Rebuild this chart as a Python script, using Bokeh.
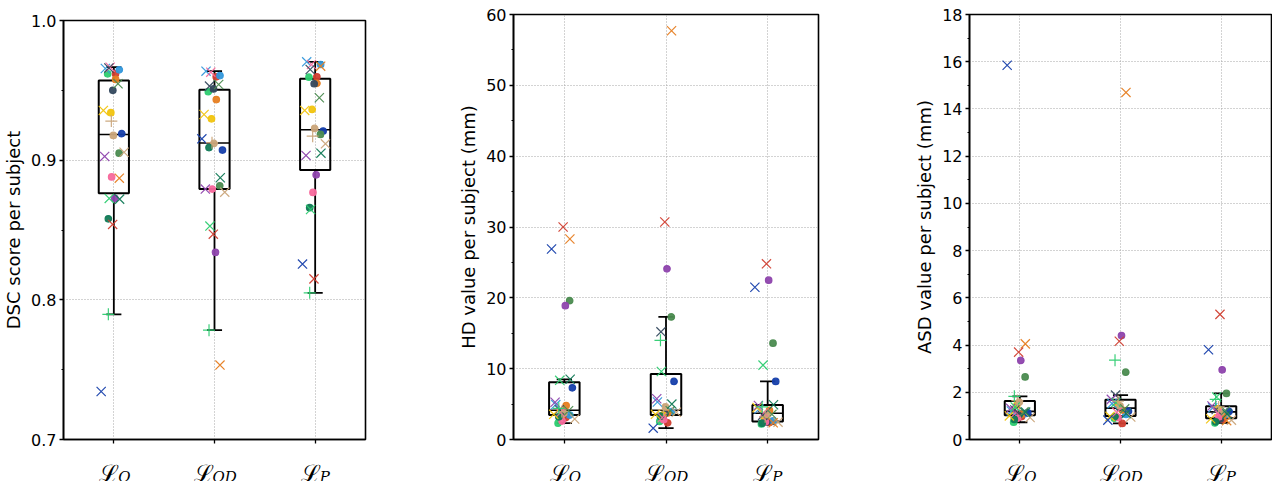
import numpy as np
from bokeh.plotting import figure
from bokeh.layouts import row, column
from bokeh.models import (SingleIntervalTicker, Range1d, ColumnDataSource,
                          NumeralTickFormatter, FixedTicker)
from bokeh.core.properties import value
from bokeh.embed import file_html
from bokeh.resources import INLINE

# ---------------- data ----------------
categories = ["O", "OD", "P"]          # subscripts of the loss names (L_O, L_OD, L_P)

# 26 subjects: colour / marker per subject
subject_colors = ["#d13f31", "#3498db", "#2ecc71", "#e67e22", "#34495e", "#f1c40f",
                  "#caa57a", "#163fab", "#4b8b50", "#f7699c", "#8e44ad", "#117a56",
                  "#3498db", "#f7699c", "#34495e", "#4b8b50", "#f1c40f", "#8e44ad",
                  "#caa57a", "#e67e22", "#2ecc71", "#117a56", "#d13f31", "#163fab",
                  "#caa57a", "#2ecc71"]
subject_markers = ["circle"] * 12 + ["x"] * 12 + ["cross"] * 2
# strip-plot jitter per subject (pixels at ~101 px per category)
subject_jitter_px = [1.7, 5.5, -6.2, 1.8, -1.0, -3.0, -0.5, 8.0, 5.3, -2.2, 1.0, -5.5,
                     -8.5, -3.7, -5.0, 4.2, -10.5, -9.2, 10.3, 5.5, -4.6, 5.8, -1.2, -12.7,
                     -2.5, -5.5]

dsc_O = [0.9618, 0.9647, 0.9618, 0.9578, 0.950, 0.934, 0.9177, 0.919, 0.905, 0.888, 0.8726, 0.858,
         0.9656, 0.9666, 0.966, 0.9547, 0.9356, 0.9027, 0.9057, 0.8871, 0.8726, 0.8721, 0.854, 0.7344,
         0.928, 0.7896]
dsc_OD = [0.9597, 0.9606, 0.949, 0.9434, 0.951, 0.9296, 0.912, 0.9072, 0.8817, 0.8793, 0.834, 0.909,
          0.9637, 0.963, 0.953, 0.9542, 0.9327, 0.8793, 0.8771, 0.7533, 0.8528, 0.8874, 0.847, 0.9153,
          0.9125, 0.7783]
dsc_P = [0.9597, 0.9685, 0.9594, 0.955, 0.9547, 0.9363, 0.9227, 0.9208, 0.9184, 0.8769, 0.8895, 0.866,
         0.9704, 0.9685, 0.9649, 0.9447, 0.9356, 0.9034, 0.9117, 0.9673, 0.8647, 0.905, 0.815, 0.8256,
         0.9172, 0.805]

hd_O = [3.1, 3.45, 2.3, 4.79, 3.6, 3.35, 3.7, 7.3, 19.6, 2.6, 18.9, 3.2,
        4.93, 3.8, 4.2, 4.06, 3.55, 5.26, 2.9, 28.3, 8.35, 8.5, 30.0, 26.9,
        3.95, 4.4]
hd_OD = [2.35, 3.95, 2.55, 3.75, 3.65, 3.45, 4.6, 8.2, 17.3, 2.8, 24.1, 3.3,
         5.3, 3.1, 15.2, 4.06, 3.55, 5.75, 3.85, 57.7, 9.6, 5.0, 30.7, 1.6,
         4.2, 14.0]
hd_P = [2.4, 2.65, 2.2, 4.1, 2.48, 3.0, 3.65, 8.2, 13.6, 2.5, 22.5, 2.3,
        4.3, 3.75, 3.4, 3.55, 4.5, 4.8, 2.45, 2.35, 10.5, 4.9, 24.8, 21.5,
        3.2, 4.6]

asd_O = [0.97, 1.1, 0.73, 1.06, 1.02, 1.45, 1.58, 1.13, 2.65, 0.9, 3.35, 0.85,
         1.21, 1.15, 1.25, 1.17, 1.0, 1.32, 0.93, 4.05, 1.38, 1.16, 3.7, 15.85,
         1.65, 1.83]
asd_OD = [0.68, 1.06, 0.9, 1.25, 1.36, 1.48, 1.42, 1.2, 2.85, 0.93, 4.4, 0.97,
          1.52, 1.15, 1.88, 1.3, 0.98, 1.7, 0.95, 14.7, 1.57, 1.1, 4.16, 0.82,
          1.62, 3.36]
asd_P = [0.85, 1.05, 0.7, 1.0, 0.87, 1.3, 1.15, 1.19, 1.95, 0.96, 2.95, 0.75,
         1.34, 1.12, 1.27, 1.22, 0.88, 1.42, 0.82, 0.8, 1.8, 1.08, 5.3, 3.8,
         1.38, 1.7]

y_labels = ["DSC score per subject", "HD value per subject (mm)", "ASD value per subject (mm)"]
y_limits = [(0.7, 1.0), (0.0, 60.0), (0.0, 18.0)]
y_intervals = [0.1, 10, 2]
y_formats = ["0.0", "0", "0"]

# ---------------- styling ----------------
FONT = "DejaVu Sans"
GRID_COLOR = "#a6a6a6"
BOX_W = 0.30
CAP_W = 0.15
marker_size = {"circle": 6.5, "x": 13, "cross": 12}
TOTAL_H = 481
MAIN_BB = 9
L_BASE = 8       # baseline of the script L above the strip's bottom edge
SUB_BASE = 4.5   # baseline of the subscript


def box_stats(vals):
    v = np.asarray(vals, dtype=float)
    q1, med, q3 = np.percentile(v, [25, 50, 75])
    iqr = q3 - q1
    lo = v[v >= q1 - 1.5 * iqr].min()
    hi = v[v <= q3 + 1.5 * iqr].max()
    return q1, med, q3, lo, hi


def make_panel(ylabel, series, ylim, interval, yfmt, frame_w, frame_h, bl, br, bt):
    xr = Range1d(0, len(categories))
    p = figure(frame_width=frame_w, frame_height=frame_h,
               x_range=xr, y_range=Range1d(*ylim),
               output_backend="svg", toolbar_location=None,
               min_border_left=bl, min_border_right=br, min_border_top=bt, min_border_bottom=MAIN_BB)
    p.background_fill_color = "white"
    p.border_fill_color = "white"
    p.outline_line_color = "black"
    p.outline_line_width = 1.6
    p.outline_line_alpha = 1.0

    centers = [i + 0.5 for i in range(len(categories))]
    # axes (x tick labels are drawn in the strip below)
    p.xaxis.ticker = FixedTicker(ticks=centers)
    p.xaxis.major_label_overrides = {c: "" for c in centers}
    p.xaxis.major_label_text_font_size = "0px"
    p.xaxis.major_label_standoff = 0
    p.yaxis.ticker = SingleIntervalTicker(interval=interval, num_minor_ticks=2)
    p.yaxis.formatter = NumeralTickFormatter(format=yfmt)
    for ax in (p.xaxis, p.yaxis):
        ax.axis_line_color = "black"
        ax.axis_line_width = 1.6
        ax.major_tick_line_color = "black"
        ax.major_tick_line_width = 1.3
        ax.major_tick_in = 0
        ax.major_tick_out = 4
        ax.minor_tick_line_color = "black"
        ax.minor_tick_line_width = 1.0
        ax.minor_tick_in = 0
        ax.minor_tick_out = 2
    p.xaxis.minor_tick_line_color = None
    ax = p.yaxis
    ax.major_label_text_font = FONT
    ax.major_label_text_font_size = "16px"
    ax.major_label_text_color = "black"
    ax.major_label_standoff = 3
    ax.axis_label = ylabel
    ax.axis_label_text_font = FONT
    ax.axis_label_text_font_size = "18px"
    ax.axis_label_text_font_style = "normal"
    ax.axis_label_text_color = "black"
    ax.axis_label_standoff = 4

    # grid
    for g in (p.xgrid, p.ygrid):
        g.grid_line_color = GRID_COLOR
        g.grid_line_dash = "1 2"
        g.grid_line_width = 1.0

    # boxes
    for c, vals in zip(centers, series):
        q1, med, q3, lo, hi = box_stats(vals)
        p.quad(left=c - BOX_W / 2, right=c + BOX_W / 2, bottom=q1, top=q3,
               fill_alpha=0, line_color="black", line_width=2)
        p.segment(x0=c - BOX_W / 2, x1=c + BOX_W / 2, y0=med, y1=med, line_color="black", line_width=1.6)
        p.segment(x0=[c, c], x1=[c, c], y0=[q3, q1], y1=[hi, lo], line_color="black", line_width=1.8)
        p.segment(x0=[c - CAP_W / 2] * 2, x1=[c + CAP_W / 2] * 2, y0=[hi, lo], y1=[hi, lo],
                  line_color="black", line_width=1.8)

    # strip points
    xs, ys, cols, mks, szs = [], [], [], [], []
    for c, vals in zip(centers, series):
        for j, v in enumerate(vals):
            xs.append(c + subject_jitter_px[j] / 101.0)
            ys.append(v)
            cols.append(subject_colors[j])
            mks.append(subject_markers[j])
            szs.append(marker_size[subject_markers[j]])
    src = ColumnDataSource(dict(x=xs, y=ys, color=cols, marker=mks, size=szs))
    p.scatter("x", "y", source=src, marker="marker", size="size",
              fill_color="color", line_color="color", line_width=1.2, alpha=0.95)

    # category-label strip below the panel (script L with subscript)
    lab_h = TOTAL_H - (bt + frame_h + MAIN_BB)
    q = figure(frame_width=frame_w, frame_height=lab_h, x_range=xr, y_range=Range1d(0, lab_h),
               output_backend="svg", toolbar_location=None,
               min_border_left=bl, min_border_right=br, min_border_top=0, min_border_bottom=0)
    q.axis.visible = False
    q.grid.visible = False
    q.outline_line_color = None
    q.background_fill_color = "white"
    q.border_fill_color = "white"
    lx_off, sx_off = [], []
    for sub in categories:
        sw = 13 * len(sub)
        right = 2 + (20 - sw) / 2
        lx_off.append(right)
        sx_off.append(right - 1)
    q.text(x=centers, y=[L_BASE] * len(centers), text=["\u2112"] * len(centers),
           x_offset=lx_off, text_align="right", text_baseline="alphabetic",
           text_font=value("DejaVu Serif"), text_font_size="24px", text_color="black")
    q.text(x=centers, y=[SUB_BASE] * len(centers), text=categories,
           x_offset=sx_off, text_align="left", text_baseline="alphabetic",
           text_font=value("DejaVu Serif"), text_font_style="italic",
           text_font_size="15px", text_color="black")
    return column(p, q, spacing=0)


p1 = make_panel(y_labels[0], [dsc_O, dsc_OD, dsc_P], y_limits[0], y_intervals[0], y_formats[0],
                302, 419, 58, 86, 20)
p2 = make_panel(y_labels[1], [hd_O, hd_OD, hd_P], y_limits[1], y_intervals[1], y_formats[1],
                305, 425, 62, 89, 14)
p3 = make_panel(y_labels[2], [asd_O, asd_OD, asd_P], y_limits[2], y_intervals[2], y_formats[2],
                302, 425, 62, 1, 14)

layout = row(p1, p2, p3, spacing=0)
open("out.html", "w").write(file_html(layout, INLINE))
